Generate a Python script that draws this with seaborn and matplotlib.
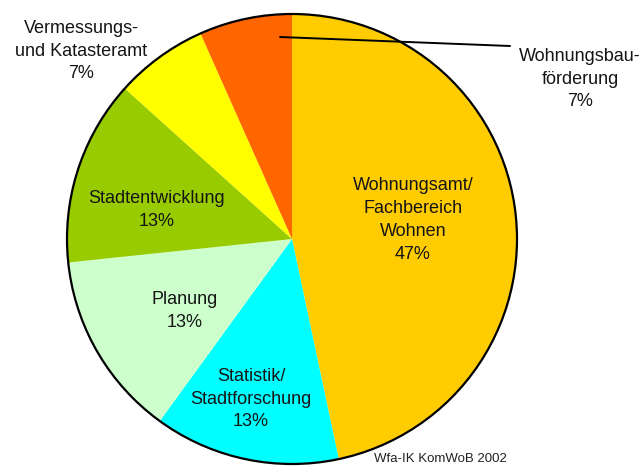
import numpy as np
import matplotlib
matplotlib.use("Agg")
import matplotlib.pyplot as plt
import seaborn as sns
from matplotlib.patches import Circle

sns.set_style("white")
plt.rcParams['font.family'] = ['Liberation Sans', 'DejaVu Sans']

# Data
labels = ["Wohnungsamt/\nFachbereich\nWohnen", "Statistik/\nStadtforschung", "Planung",
          "Stadtentwicklung", "Vermessungs-\nund Katasteramt", "Wohnungsbau-\nförderung"]
values = [7, 2, 2, 2, 1, 1]
colors = ["#FFCC00", "#00FFFF", "#CCFFCC", "#99CC00", "#FFFF00", "#FF6600"]
# label anchor (pixel coords of reference)
label_pos = [(413, 220), (251, 399), (185, 311), (157, 210), (81, 51), (580, 79)]

fig = plt.figure(figsize=(6.43, 4.66), dpi=100)
ax = fig.add_axes([0, 0, 1, 1])

cx, cy, r = 292, 239, 225
ax.pie(values, colors=colors, startangle=-90, counterclock=True,
       center=(cx, cy), radius=r, frame=True,
       wedgeprops=dict(linewidth=0))
ax.set_xlim(0, 643)
ax.set_ylim(466, 0)
ax.set_aspect("equal")
ax.axis("off")
ax.add_patch(Circle((cx, cy), r, fill=False, edgecolor="black", lw=1.6, zorder=5))

total = sum(values)
for lab, v, (x, y) in zip(labels, values, label_pos):
    pct = round(v / total * 100)
    ax.text(x, y, f"{lab}\n{pct}%", ha="center", va="center", fontsize=13,
            color="#151515", linespacing=1.45, zorder=6)

# leader line for Wohnungsbauförderung
ax.plot([280, 510], [37, 46], color="black", lw=1.4, zorder=6)

ax.text(440, 465, "Wfa-IK KomWoB 2002", ha="center", va="bottom", fontsize=9.5, color="#222222")

fig.savefig("out.png", dpi=100)
